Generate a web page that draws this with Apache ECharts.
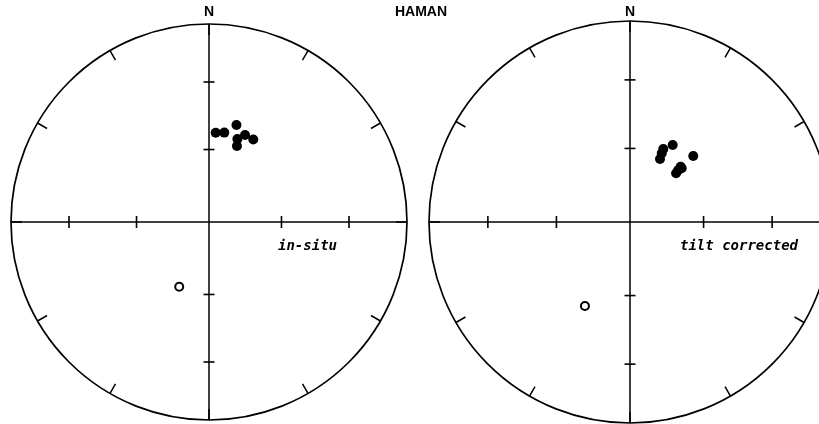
<!DOCTYPE html>
<html>
<head>
<meta charset="utf-8">
<script src="https://cdn.jsdelivr.net/npm/echarts@6/dist/echarts.min.js"></script>
<style>
  html, body { margin: 0; padding: 0; background: #fff; }
  #chart { width: 819px; height: 424px; }
</style>
</head>
<body>
<div id="chart"></div>
<script>
// Site mean directions, HAMAN (declination / inclination, degrees)
const decInSitu   = [4.3, 9.7, 15.8, 22.5, 18.9, 20.2, 28.2, 204.7];
const incInSitu   = [52.7, 52.2, 47.8, 50.7, 53.5, 56.4, 50.9, -60.5];
const decTilt     = [24.5, 29.0, 24.8, 25.5, 43.8, 42.5, 42.9, 43.4, 43.9, 208.2];
const incTilt     = [57.2, 53.9, 59.1, 61.6, 52.5, 59.4, 61.1, 62.7, 59.6, -50.8];
// Inclination ticks marked along the N-S and E-W diameters
const incTicks    = [30, 60];
const tickAzimuths = [0, 90, 180, 270];
const panelTitles = ['in-situ', 'tilt corrected'];

// Equal-area (Schmidt) projection: normalized radius for an inclination
function eqArea(inc) {
  const a = (90 - Math.abs(inc)) / 2 * Math.PI / 180;
  return Math.SQRT2 * Math.sin(a);
}

function pts(decs, incs, lower) {
  const out = [];
  decs.forEach((d, i) => {
    if ((incs[i] >= 0) === lower) out.push([eqArea(incs[i]), d]);
  });
  return out;
}

const panels = [
  { center: [209, 222], radius: 198, dec: decInSitu, inc: incInSitu },
  { center: [630, 222], radius: 201, dec: decTilt, inc: incTilt }
];

const polar = [], angleAxis = [], radiusAxis = [], series = [];
panels.forEach((p, k) => {
  polar.push({ center: p.center, radius: p.radius });
  angleAxis.push({
    polarIndex: k, type: 'value', min: 0, max: 360, interval: 30,
    startAngle: 90, clockwise: true,
    axisLine: { lineStyle: { color: '#000', width: 1.7 } },
    axisTick: { show: true, inside: true, length: 11, lineStyle: { color: '#000', width: 1.5 } },
    axisLabel: { show: false }, splitLine: { show: false }
  });
  radiusAxis.push({
    polarIndex: k, type: 'value', min: 0, max: 1,
    axisLine: { show: false }, axisTick: { show: false },
    axisLabel: { show: false }, splitLine: { show: false }
  });
  // N-S and E-W diameters
  [[0, 180], [90, 270]].forEach(pair => {
    series.push({
      type: 'line', coordinateSystem: 'polar', polarIndex: k,
      data: [[1, pair[0]], [1, pair[1]]], symbol: 'none', silent: true,
      lineStyle: { color: '#000', width: 1.5 }
    });
  });
  // Inclination ticks on the diameters
  tickAzimuths.forEach(az => {
    const ns = (az === 0 || az === 180);
    series.push({
      type: 'scatter', coordinateSystem: 'polar', polarIndex: k, silent: true,
      symbol: 'rect', symbolSize: ns ? [11, 1.6] : [1.6, 12],
      itemStyle: { color: '#000', opacity: 1 },
      data: incTicks.map(i => [eqArea(i), az])
    });
  });
  // Lower hemisphere: solid dots
  series.push({
    type: 'scatter', coordinateSystem: 'polar', polarIndex: k,
    symbol: 'circle', symbolSize: 10,
    itemStyle: { color: '#000', opacity: 1 },
    data: pts(p.dec, p.inc, true)
  });
  // Upper hemisphere: open circles
  series.push({
    type: 'scatter', coordinateSystem: 'polar', polarIndex: k,
    symbol: 'circle', symbolSize: 8,
    itemStyle: { color: '#fff', borderColor: '#000', borderWidth: 2, opacity: 1 },
    data: pts(p.dec, p.inc, false)
  });
});

const boldFont = 'bold 14px "Liberation Sans", Arial, sans-serif';
const italicFont = 'bold italic 14px "DejaVu Sans Mono", monospace';

const chart = echarts.init(document.getElementById('chart'), null, { renderer: 'canvas' });
chart.setOption({
  backgroundColor: '#fff',
  animation: false,
  polar, angleAxis, radiusAxis, series,
  graphic: [
    { type: 'text', x: 209, y: 12, style: { text: 'N', font: boldFont, fill: '#000', align: 'center', verticalAlign: 'middle' } },
    { type: 'text', x: 630, y: 12, style: { text: 'N', font: boldFont, fill: '#000', align: 'center', verticalAlign: 'middle' } },
    { type: 'text', x: 421, y: 12, style: { text: 'HAMAN', font: boldFont, fill: '#000', align: 'center', verticalAlign: 'middle' } },
    { type: 'text', x: 278, y: 246, style: { text: panelTitles[0], font: italicFont, fill: '#000', align: 'left', verticalAlign: 'middle' } },
    { type: 'text', x: 680, y: 246, style: { text: panelTitles[1], font: italicFont, fill: '#000', align: 'left', verticalAlign: 'middle' } }
  ]
});
</script>
</body>
</html>
